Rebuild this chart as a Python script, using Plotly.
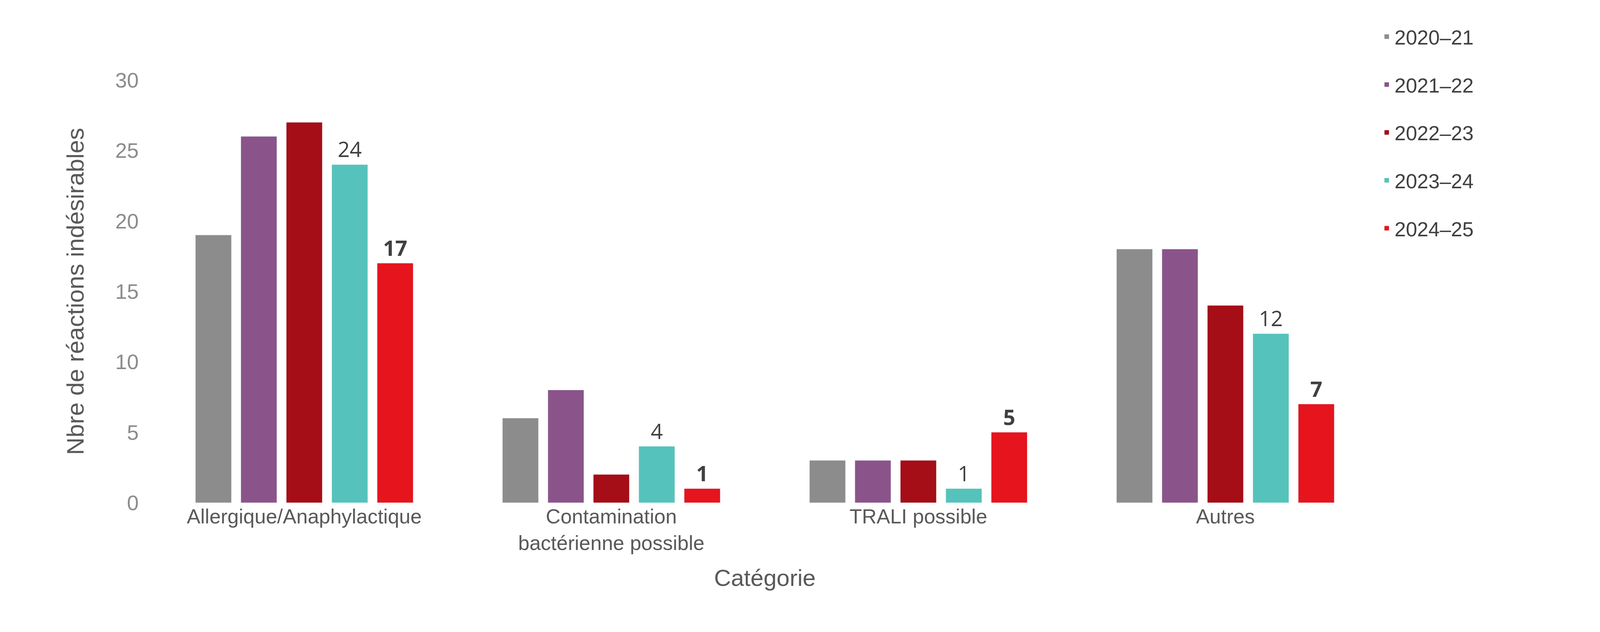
import plotly.graph_objects as go

categories = ["Allergique/Anaphylactique", "Contamination<br>bactérienne possible", "TRALI possible", "Autres"]
series = ["2020–21", "2021–22", "2022–23", "2023–24", "2024–25"]
values = {
    "2020–21": [19, 6, 3, 18],
    "2021–22": [26, 8, 3, 18],
    "2022–23": [27, 2, 3, 14],
    "2023–24": [24, 4, 1, 12],
    "2024–25": [17, 1, 5, 7],
}
colors = ["#8c8c8c", "#8a548a", "#a50e16", "#55c3bb", "#e5141d"]
labels = {"2023–24": "%{y}", "2024–25": "<b>%{y}</b>"}

fig = go.Figure()
for s, c in zip(series, colors):
    kw = {}
    if s in labels:
        kw = dict(texttemplate=labels[s], textposition="outside",
                  textfont=dict(size=54, color="#404040", family="Open Sans"))
    fig.add_bar(x=categories, y=values[s], name=s, marker_color=c,
                legendgroup=s, cliponaxis=False, **kw)

fig.update_layout(
    autosize=True, height=1618, barmode="group", bargap=0.26, bargroupgap=0.21,
    plot_bgcolor="white", paper_bgcolor="white",
    margin=dict(l=378, r=558, t=197, b=339),
    font=dict(family="Arial, Liberation Sans", color="#595959"),
    legend=dict(x=1.0, xanchor="left", y=1.14, yanchor="top", font=dict(size=52, color="#404040"),
                traceorder="grouped", tracegroupgap=52, itemwidth=30),
    xaxis=dict(tickfont=dict(size=52, color="#595959"), showline=False,
               title=dict(text="Catégorie", font=dict(size=60, color="#595959"), standoff=40)),
    yaxis=dict(range=[0, 30], dtick=5, showgrid=False, zeroline=False,
               tickfont=dict(size=54, color="#8c8c8c"), ticklabelstandoff=30,
               title=dict(text="Nbre de réactions indésirables", font=dict(size=62, color="#595959"), standoff=60)),
)
fig.write_html("out.html", config={"responsive": True}, default_width="100%")
